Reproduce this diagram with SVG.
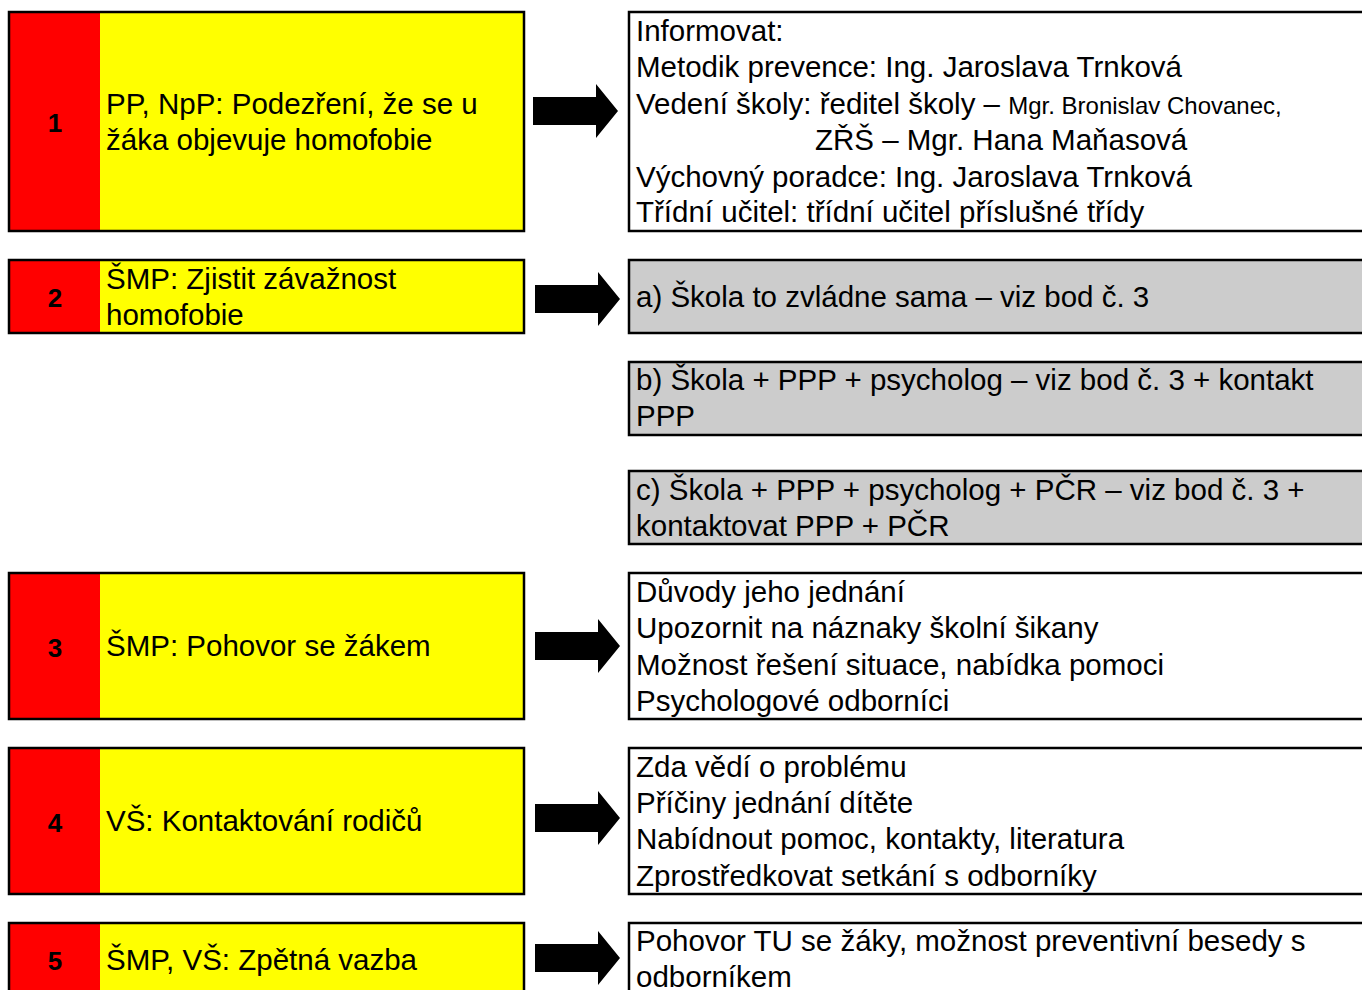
<svg xmlns="http://www.w3.org/2000/svg" width="1362" height="990" viewBox="0 0 1362 990">
<defs>
<style>
.box{stroke:#000;stroke-width:2.5}
.red{fill:#ff0000}
.yel{fill:#ffff00}
.wht{fill:#ffffff}
.gry{fill:#cccccc}
.t{font-family:"Liberation Sans",Arial,sans-serif;font-size:29.5px;fill:#000}
.s{font-size:24px}
.n{font-family:"Liberation Sans",Arial,sans-serif;font-size:26px;font-weight:bold;fill:#000;text-anchor:middle}
.arr{fill:#000}
</style>
<path id="ar" d="M0,-14 H63 V-27 L85,0 L63,27 V14 H0 Z"/>
</defs>
<rect width="1362" height="990" fill="#fff"/>

<g id="step1">
<rect class="yel" x="9" y="12" width="515" height="219"/>
<rect class="red" x="9" y="12" width="91" height="219"/>
<rect class="box" x="9" y="12" width="515" height="219" fill="none"/>
<text class="n" x="55" y="132">1</text>
<text class="t" x="106" y="114">PP, NpP: Podezření, že se u</text>
<text class="t" x="106" y="150">žáka objevuje homofobie</text>
</g>
<g id="step2">
<rect class="yel" x="9" y="260" width="515" height="73"/>
<rect class="red" x="9" y="260" width="91" height="73"/>
<rect class="box" x="9" y="260" width="515" height="73" fill="none"/>
<text class="n" x="55" y="307">2</text>
<text class="t" x="106" y="289">ŠMP: Zjistit závažnost</text>
<text class="t" x="106" y="325">homofobie</text>
</g>
<g id="step3">
<rect class="yel" x="9" y="573" width="515" height="146"/>
<rect class="red" x="9" y="573" width="91" height="146"/>
<rect class="box" x="9" y="573" width="515" height="146" fill="none"/>
<text class="n" x="55" y="657">3</text>
<text class="t" x="106" y="656">ŠMP: Pohovor se žákem</text>
</g>
<g id="step4">
<rect class="yel" x="9" y="748" width="515" height="146"/>
<rect class="red" x="9" y="748" width="91" height="146"/>
<rect class="box" x="9" y="748" width="515" height="146" fill="none"/>
<text class="n" x="55" y="832">4</text>
<text class="t" x="106" y="831">VŠ: Kontaktování rodičů</text>
</g>
<g id="step5">
<rect class="yel" x="9" y="923" width="515" height="80"/>
<rect class="red" x="9" y="923" width="91" height="80"/>
<rect class="box" x="9" y="923" width="515" height="80" fill="none"/>
<text class="n" x="55" y="970">5</text>
<text class="t" x="106" y="970">ŠMP, VŠ: Zpětná vazba</text>
</g>

<g id="info1">
<rect class="box wht" x="629" y="12" width="745" height="219"/>
<text class="t" x="636" y="41">Informovat:</text>
<text class="t" x="636" y="77">Metodik prevence: Ing. Jaroslava Trnková</text>
<text class="t" x="636" y="114">Vedení školy: ředitel školy – <tspan class="s">Mgr. Bronislav Chovanec,</tspan></text>
<text class="t" x="815" y="150">ZŘŠ – Mgr. Hana Maňasová</text>
<text class="t" x="636" y="187">Výchovný poradce: Ing. Jaroslava Trnková</text>
<text class="t" x="636" y="222">Třídní učitel: třídní učitel příslušné třídy</text>
</g>
<g id="optA">
<rect class="box gry" x="629" y="260" width="745" height="73"/>
<text class="t" x="636" y="307">a) Škola to zvládne sama – viz bod č. 3</text>
</g>
<g id="optB">
<rect class="box gry" x="629" y="362" width="745" height="73"/>
<text class="t" x="636" y="390">b) Škola + PPP + psycholog – viz bod č. 3 + kontakt</text>
<text class="t" x="636" y="426">PPP</text>
</g>
<g id="optC">
<rect class="box gry" x="629" y="471" width="745" height="73"/>
<text class="t" x="636" y="500">c) Škola + PPP + psycholog + PČR – viz bod č. 3 +</text>
<text class="t" x="636" y="536">kontaktovat PPP + PČR</text>
</g>
<g id="info3">
<rect class="box wht" x="629" y="573" width="745" height="146"/>
<text class="t" x="636" y="602">Důvody jeho jednání</text>
<text class="t" x="636" y="638">Upozornit na náznaky školní šikany</text>
<text class="t" x="636" y="675">Možnost řešení situace, nabídka pomoci</text>
<text class="t" x="636" y="711">Psychologové odborníci</text>
</g>
<g id="info4">
<rect class="box wht" x="629" y="748" width="745" height="146"/>
<text class="t" x="636" y="777">Zda vědí o problému</text>
<text class="t" x="636" y="813">Příčiny jednání dítěte</text>
<text class="t" x="636" y="849">Nabídnout pomoc, kontakty, literatura</text>
<text class="t" x="636" y="886">Zprostředkovat setkání s odborníky</text>
</g>
<g id="info5">
<rect class="box wht" x="629" y="923" width="745" height="80"/>
<text class="t" x="636" y="951">Pohovor TU se žáky, možnost preventivní besedy s</text>
<text class="t" x="636" y="987">odborníkem</text>
</g>

<g id="connectors" class="arr">
<use href="#ar" x="533" y="111"/>
<use href="#ar" x="535" y="299"/>
<use href="#ar" x="535" y="646"/>
<use href="#ar" x="535" y="818"/>
<use href="#ar" x="535" y="958"/>
</g>
</svg>
